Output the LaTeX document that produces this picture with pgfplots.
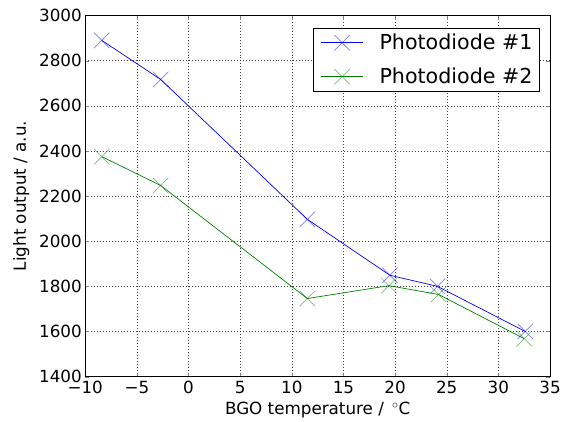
\documentclass[border=0pt]{standalone}
\usepackage{fontspec}
\setmainfont{DejaVu Sans}
\usepackage{pgfplots}
\pgfplotsset{compat=1.18}
\definecolor{mplblue}{rgb}{0,0,1}
\definecolor{mplgreen}{rgb}{0,0.5,0}
\begin{document}
\begin{tikzpicture}
\path (-86pt,-45pt) rectangle (478pt,380pt);
\begin{axis}[
  at={(0,0)}, anchor=south west,
  scale only axis, width=469pt, height=364.3pt,
  xmin=-10, xmax=35, ymin=1400, ymax=3000,
  xtick={-10,-5,0,5,10,15,20,25,30,35},
  xticklabels={−10,−5,0,5,10,15,20,25,30,35},
  ytick={1400,1600,1800,2000,2200,2400,2600,2800,3000},
  yticklabel style={/pgf/number format/assume math mode=true,/pgf/number format/set thousands separator={}},
  xticklabel style={yshift=-1pt},
  tick label style={font=\fontsize{16.9pt}{20pt}\selectfont},
  label style={font=\fontsize{16.9pt}{20pt}\selectfont},
  xlabel={BGO temperature / \,$^\circ$C},
  ylabel={Light output / a.u.},
  xlabel shift=2pt,
  ylabel shift=3pt,
  grid=major,
  grid style={black!75, dash pattern=on 1pt off 2pt, line width=0.5pt},
  tick align=inside,
  major tick length=4pt,
  xtick pos=both, ytick pos=both,
  axis line style={black, line width=0.8pt},
  legend style={at={(0.978,0.966)}, anchor=north east, font=\fontsize{20.8pt}{24pt}\selectfont, draw=black, line width=0.8pt, inner xsep=7pt, inner ysep=4pt, row sep=13pt, cells={anchor=west},
    nodes={inner xsep=0pt},
    /tikz/every odd column/.append style={column sep=16pt}},
  legend cell align=left,
  legend image code/.code={\draw[#1, mark repeat=2, mark phase=2] plot coordinates {(0pt,0pt) (21.5pt,0pt) (43pt,0pt)};},
]
\addplot[mplblue, line width=0.7pt, mark=x, mark size=11pt, mark options={opacity=0.5, line width=0.7pt}]
  coordinates {(-8.4,2890) (-2.7,2717) (11.5,2097) (19.5,1849) (24.1,1800) (32.6,1600)};
\addlegendentry{Photodiode \#1}
\addplot[mplgreen, line width=0.7pt, mark=x, mark size=11pt, mark options={opacity=0.5, line width=0.7pt}]
  coordinates {(-8.4,2375) (-2.7,2247) (11.5,1746) (19.4,1803) (24.2,1764) (32.5,1568)};
\addlegendentry{Photodiode \#2}
\end{axis}
\end{tikzpicture}
\end{document}
